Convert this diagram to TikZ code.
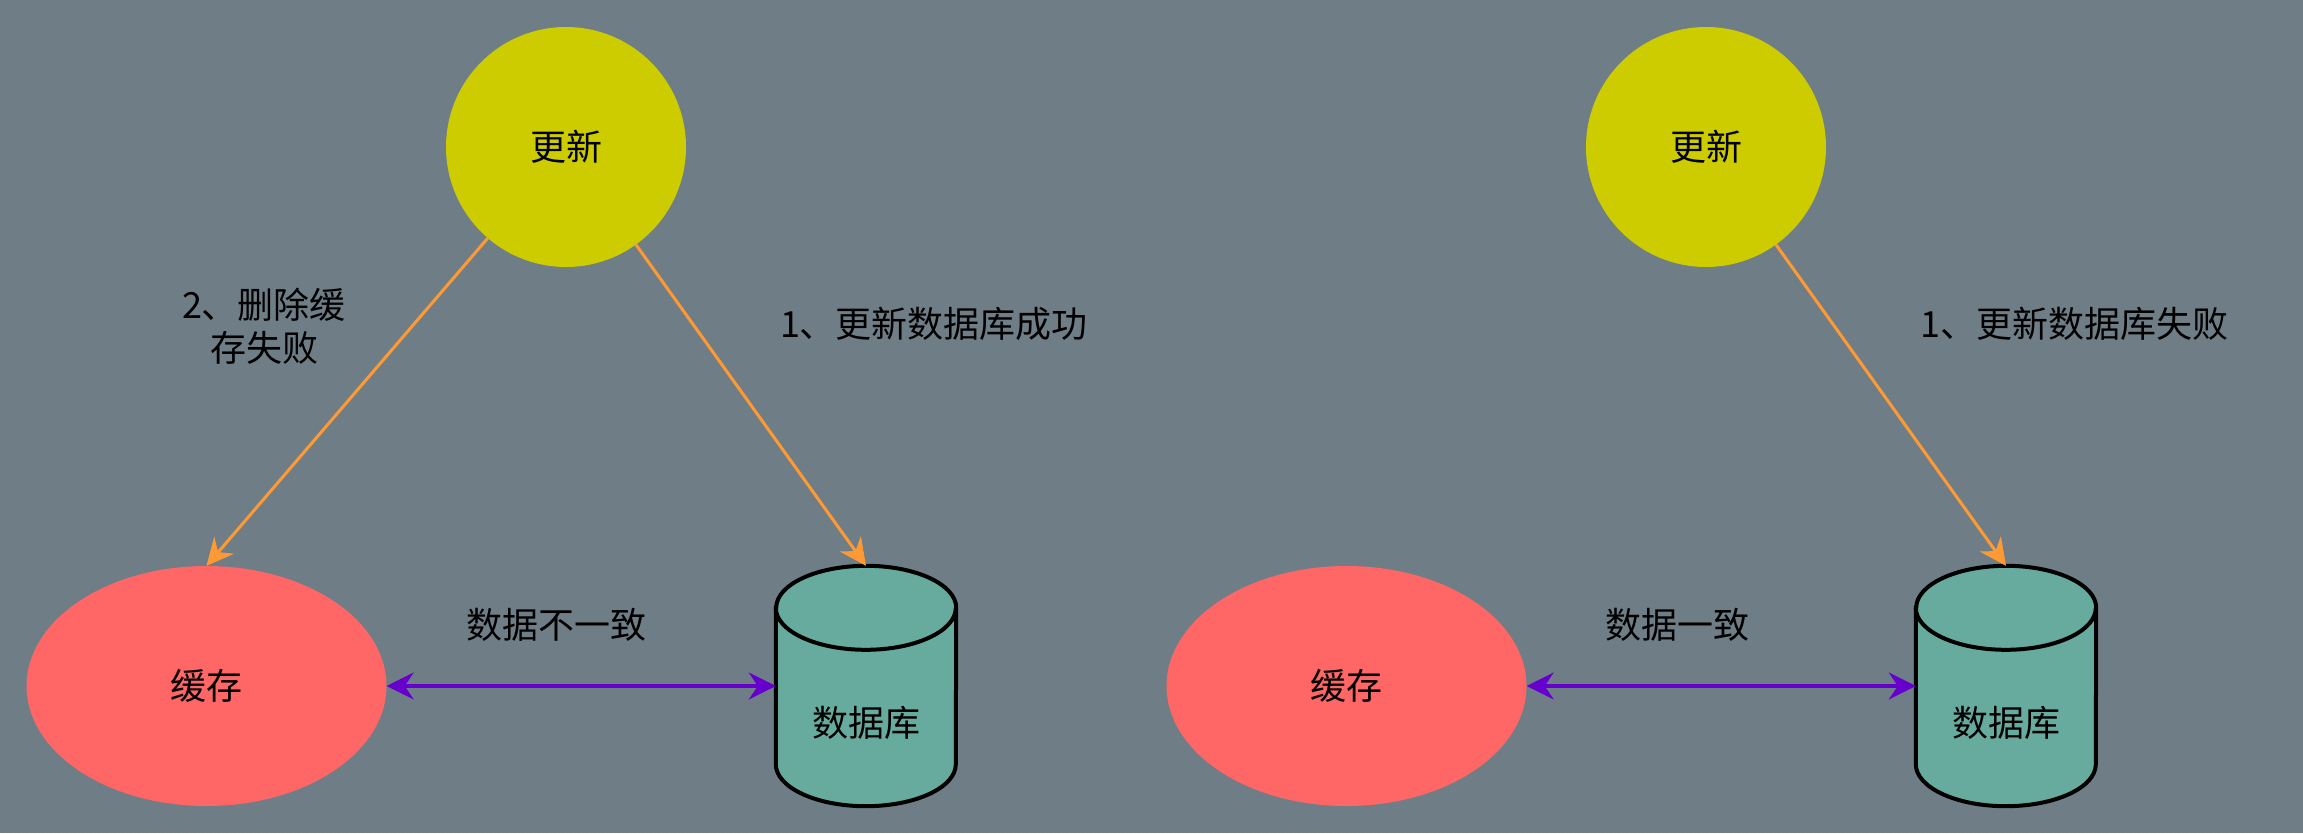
\documentclass[tikz,border=0pt]{standalone}
\usepackage{fontspec}
\setmainfont{Noto Sans CJK SC}
\usetikzlibrary{arrows.meta,shapes.geometric}
\definecolor{bgc}{HTML}{6F7E86}
\definecolor{updc}{HTML}{CCCC00}
\definecolor{cachec}{HTML}{FF6666}
\definecolor{dbc}{HTML}{67AB9F}
\definecolor{orangec}{HTML}{FF9933}
\definecolor{purplec}{HTML}{6600CC}
\tikzset{
  txt/.style={font=\fontsize{36}{43}\selectfont, text=black, inner sep=0pt, align=center},
  updnode/.style={circle, fill=updc, minimum size=240pt, inner sep=0pt, txt},
  cachenode/.style={ellipse, fill=cachec, minimum width=360pt, minimum height=240pt, inner sep=0pt, txt},
  dbnode/.style={rectangle, minimum width=180pt, minimum height=240pt, inner sep=0pt},
  cylbody/.style={fill=dbc, draw=black, line width=4pt},
  orangearrow/.style={draw=orangec, line width=3pt, -{Stealth[length=27pt,width=26pt,inset=9pt]}},
  purplearrow/.style={draw=purplec, line width=3.5pt, {Stealth[length=27pt,width=27pt,inset=9pt]}-{Stealth[length=27pt,width=27pt,inset=9pt]}}
}
\begin{document}
\begin{tikzpicture}[x=1pt,y=1pt]
\fill[bgc] (0,0) rectangle (2303,-833);
\useasboundingbox (0,0) rectangle (2303,-833);

% ---------- left diagram ----------
\node[updnode] (upd1) at (566,-147) {更新};
\node[cachenode] (cache1) at (206.5,-686) {缓存};
\node[dbnode] (db1) at (866,-686) {};
\path[cylbody] ([yshift=-42pt]db1.north west) -- ([yshift=42pt]db1.south west)
  arc[start angle=180,end angle=360,x radius=90pt,y radius=42pt]
  -- ([yshift=-42pt]db1.north east)
  arc[start angle=0,end angle=180,x radius=90pt,y radius=42pt] -- cycle;
\draw[black, line width=4pt] ([yshift=-42pt]db1.north west)
  arc[start angle=180,end angle=360,x radius=90pt,y radius=42pt];
\node[txt] (dbl1) at (866,-723) {数据库};

\draw[orangearrow] (upd1) -- (db1.north);
\draw[orangearrow] (upd1) -- (cache1.north);
\draw[purplearrow] (cache1.east) -- (db1.west);

\node[txt] (lab1) at (934,-324) {1、更新数据库成功};
\node[txt] (lab2) at (264,-326) {2、删除缓\\存失败};
\node[txt] (lab3) at (556,-625) {数据不一致};

% ---------- right diagram ----------
\node[updnode] (upd2) at (1706,-147) {更新};
\node[cachenode] (cache2) at (1346.5,-686) {缓存};
\node[dbnode] (db2) at (2006,-686) {};
\path[cylbody] ([yshift=-42pt]db2.north west) -- ([yshift=42pt]db2.south west)
  arc[start angle=180,end angle=360,x radius=90pt,y radius=42pt]
  -- ([yshift=-42pt]db2.north east)
  arc[start angle=0,end angle=180,x radius=90pt,y radius=42pt] -- cycle;
\draw[black, line width=4pt] ([yshift=-42pt]db2.north west)
  arc[start angle=180,end angle=360,x radius=90pt,y radius=42pt];
\node[txt] (dbl2) at (2006,-723) {数据库};

\draw[orangearrow] (upd2) -- (db2.north);
\draw[purplearrow] (cache2.east) -- (db2.west);

\node[txt] (lab4) at (2074,-324) {1、更新数据库失败};
\node[txt] (lab5) at (1677,-625) {数据一致};
\end{tikzpicture}
\end{document}
